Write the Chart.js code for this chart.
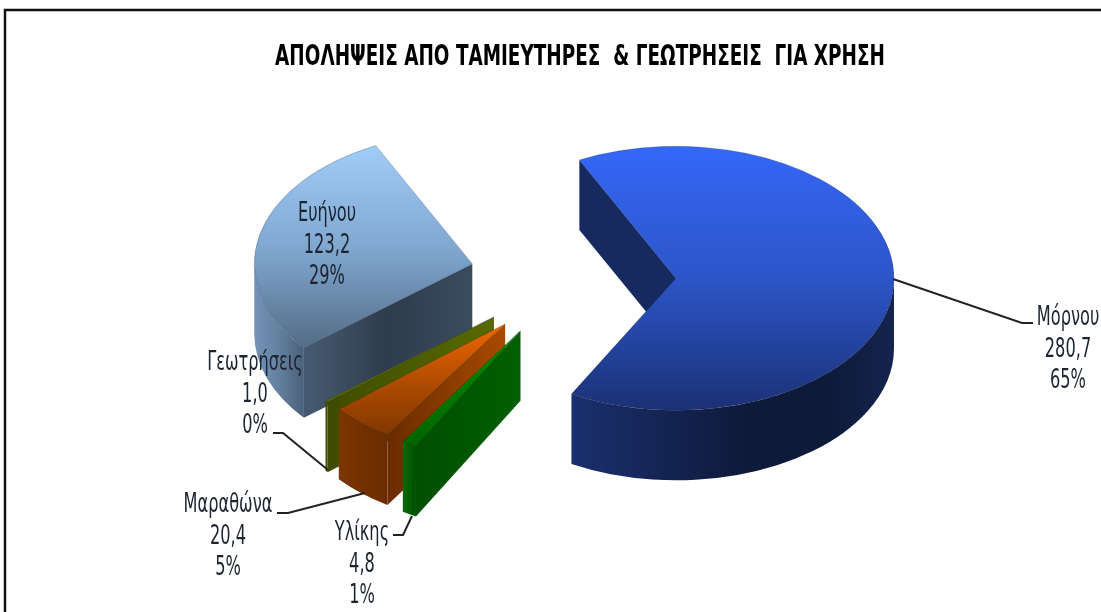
<!DOCTYPE html>
<html lang="el">
<head>
<meta charset="utf-8">
<style>html,body{margin:0;padding:0;background:#fff}canvas{display:block}</style>
<script src="https://cdn.jsdelivr.net/npm/chart.js@4"></script>
</head>
<body>
<div style="width:1101px;height:612px"><canvas id="c" width="1101" height="612"></canvas></div>
<script>
const titleText = 'ΑΠΟΛΗΨΕΙΣ ΑΠΟ ΤΑΜΙΕΥΤΗΡΕΣ  & ΓΕΩΤΡΗΣΕΙΣ  ΓΙΑ ΧΡΗΣΗ';
const categories = ['Μόρνου', 'Υλίκης', 'Μαραθώνα', 'Γεωτρήσεις', 'Ευήνου'];
const seriesValues = [280.7, 4.8, 20.4, 1.0, 123.2];
const percentLabels = ['65%', '1%', '5%', '0%', '29%'];

// styles per slice, same order as the categories
const topStops = [
  [[0, '#3567f8'], [0.5, '#2c55c8'], [1, '#1b3175']],
  [[0.5, '#008c00'], [1, '#005f00']],
  [[0.45, '#ff6c00'], [0.72, '#b04c00'], [0.95, '#7a3400']],
  [[0.5, '#687c00'], [1, '#4a5c00']],
  [[0.05, '#a0cdf8'], [0.45, '#7fa6cf'], [0.85, '#50677f']]
];
const rimStops = [
  [[0, '#1a2f6e'], [0.55, '#0e1a3a'], [0.8, '#0e1a3a'], [1, '#14244f']],
  [[0, '#0a6a0a'], [1, '#005000']],
  [[0, '#7c3600'], [1, '#6a2c00']],
  [[0, '#3f4c00'], [1, '#3f4c00']],
  [[0, '#7393b8'], [0.5, '#64809f'], [1, '#4a6079']]
];
const wallStops = [
  [[0, '#162a60'], [1, '#162a60']],
  [[0, '#004f00'], [1, '#006000']],
  [[0, '#6a2c00'], [1, '#a84a00']],
  [[0, '#3f4c00'], [1, '#586a00']],
  [[0, '#465b72'], [0.5, '#2e3c4c'], [1, '#3a4c60']]
];
const paintOrder = [4, 3, 2, 1, 0];

// pie geometry on the page
const pieCentre = {x: 573, y: 277};
const pieRadius = 218;
const pieTilt = 132 / 218;
const pieDepth = 70;
const explode = 103;
const startRotation = -26.3;

// label block centres and leader lines
const labelPlacement = [
  {x: 1068, y: 318, leader: [[893, 279], [1022, 323], [1033, 323]]},
  {x: 362, y: 533, leader: [[393, 535], [403, 535], [412, 516]]},
  {x: 228, y: 505, leader: [[277, 513], [288, 513], [365, 493]]},
  {x: 255, y: 363, leader: [[273, 433], [283, 433], [328, 470]]},
  {x: 327, y: 214, leader: null}
];
const lineStep = 31.5;

function makeGradient(ctx, x0, y0, x1, y1, stops) {
  const g = ctx.createLinearGradient(x0, y0, x1, y1);
  stops.forEach(s => g.addColorStop(s[0], s[1]));
  return g;
}

function squeezedText(ctx, text, x, y, font, xScale, color) {
  ctx.save();
  ctx.font = font;
  ctx.fillStyle = color;
  ctx.textAlign = 'center';
  ctx.textBaseline = 'middle';
  ctx.translate(x, y);
  ctx.scale(xScale, 1);
  ctx.fillText(text, 0, 0);
  ctx.restore();
}

const pie3d = {
  id: 'pie3d',
  beforeDraw(chart) {
    const ctx = chart.ctx;
    ctx.save();
    ctx.fillStyle = '#fff';
    ctx.fillRect(0, 0, chart.width, chart.height);
    ctx.strokeStyle = '#111';
    ctx.lineWidth = 2.5;
    ctx.beginPath();
    ctx.moveTo(5, chart.height);
    ctx.lineTo(5, 10);
    ctx.lineTo(chart.width, 10);
    ctx.stroke();
    ctx.restore();
  },
  beforeDatasetsDraw(chart) {
    const ctx = chart.ctx;
    const arcs = chart.getDatasetMeta(0).data;
    paintOrder.forEach(i => {
      const arc = arcs[i];
      const mid = (arc.startAngle + arc.endAngle) / 2;
      const cx = pieCentre.x + Math.cos(mid) * explode;
      const cy = pieCentre.y + Math.sin(mid) * explode * pieTilt;
      const rx = pieRadius, ry = pieRadius * pieTilt;
      const px = a => cx + Math.cos(a) * rx;
      const py = a => cy + Math.sin(a) * ry;
      const wall = a => {
        const xa = Math.min(cx, px(a)), xb = Math.max(cx, px(a));
        ctx.fillStyle = makeGradient(ctx, xa, 0, xb, 0, wallStops[i]);
        ctx.beginPath();
        ctx.moveTo(cx, cy);
        ctx.lineTo(px(a), py(a));
        ctx.lineTo(px(a), py(a) + pieDepth);
        ctx.lineTo(cx, cy + pieDepth);
        ctx.closePath();
        ctx.fill();
      };
      if (Math.cos(arc.endAngle) > 0) wall(arc.endAngle);
      if (Math.cos(arc.startAngle) < 0) wall(arc.startAngle);
      [-2, 0, 2].forEach(n => {
        const a = Math.max(arc.startAngle + n * Math.PI, 0);
        const b = Math.min(arc.endAngle + n * Math.PI, Math.PI);
        if (b <= a) return;
        ctx.fillStyle = makeGradient(ctx, cx + Math.cos(b) * rx, 0, cx + Math.cos(a) * rx, 0, rimStops[i]);
        ctx.beginPath();
        ctx.ellipse(cx, cy, rx, ry, 0, a, b);
        ctx.ellipse(cx, cy + pieDepth, rx, ry, 0, b, a, true);
        ctx.closePath();
        ctx.fill();
      });
      ctx.save();
      ctx.translate(cx, cy);
      ctx.scale(1, pieTilt);
      ctx.translate(-arc.x, -arc.y);
      arc.draw(ctx);
      ctx.restore();
    });

    ctx.save();
    ctx.strokeStyle = '#222';
    ctx.lineWidth = 2;
    labelPlacement.forEach(p => {
      if (!p.leader) return;
      ctx.beginPath();
      p.leader.forEach((q, n) => n ? ctx.lineTo(q[0], q[1]) : ctx.moveTo(q[0], q[1]));
      ctx.stroke();
    });
    ctx.restore();

    squeezedText(ctx, titleText, 580, 57, 'bold 29px "DejaVu Sans"', 0.635, '#000');
    const font = '27px "DejaVu Sans"';
    categories.forEach((name, i) => {
      const p = labelPlacement[i];
      const value = seriesValues[i].toFixed(1).replace('.', ',');
      [name, value, percentLabels[i]].forEach((t, n) => {
        squeezedText(ctx, t, p.x, p.y + n * lineStep, font, 0.6, '#1c2430');
      });
    });
    return false;
  }
};

new Chart(document.getElementById('c'), {
  type: 'pie',
  plugins: [pie3d],
  data: {
    labels: categories,
    datasets: [{
      data: seriesValues,
      borderWidth: 0.6,
      borderColor: 'rgba(20,30,50,0.45)',
      backgroundColor(context) {
        const chart = context.chart;
        const area = chart.chartArea;
        if (!area) return '#888';
        const y = (area.top + area.bottom) / 2;
        return makeGradient(chart.ctx, 0, y - pieRadius, 0, y + pieRadius, topStops[context.dataIndex]);
      }
    }]
  },
  options: {
    responsive: false,
    animation: false,
    rotation: startRotation,
    radius: pieRadius,
    layout: {padding: 0},
    events: [],
    plugins: {legend: {display: false}, title: {display: false}, tooltip: {enabled: false}}
  }
});
</script>
</body>
</html>
